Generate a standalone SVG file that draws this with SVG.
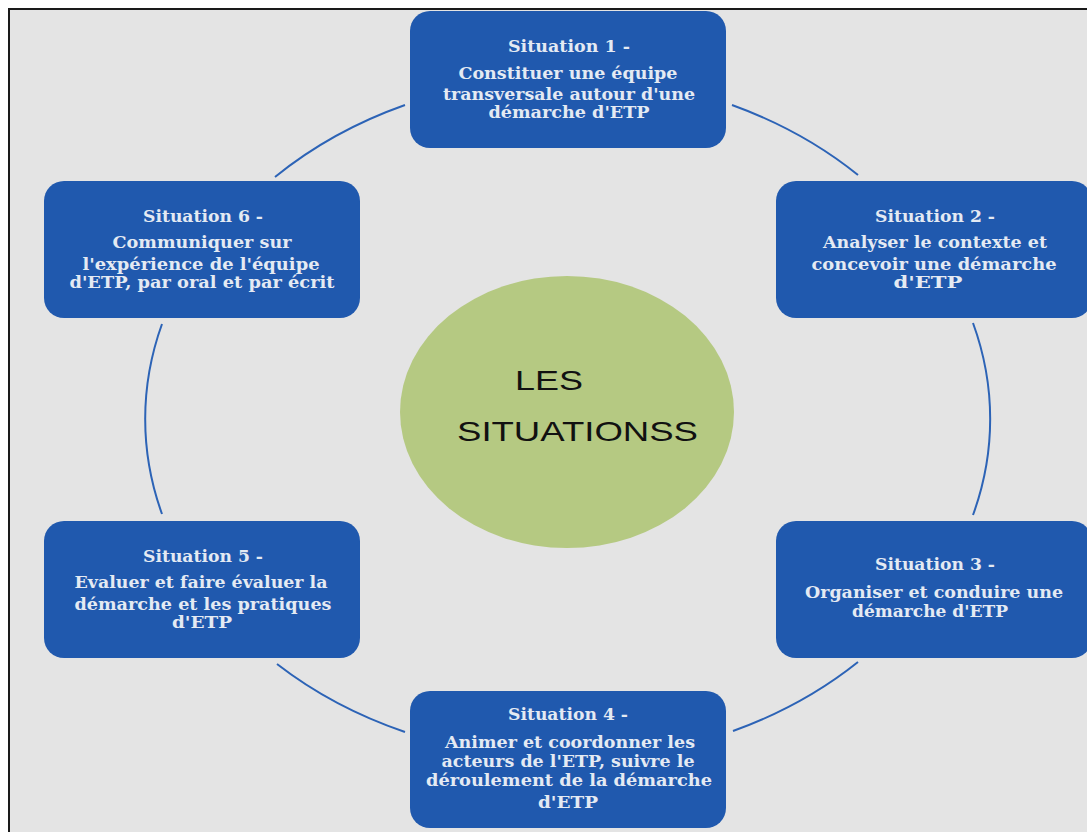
<svg xmlns="http://www.w3.org/2000/svg" width="1087" height="832" viewBox="0 0 1087 832">
<style>
.box{fill:#2059ae;}
.t{font-family:"DejaVu Serif","Liberation Serif",serif;font-weight:bold;font-size:17px;fill:#e4eaf3;text-anchor:middle;}
.c{font-family:"Liberation Sans",Arial,sans-serif;font-size:28px;fill:#111;}
.arc{fill:none;stroke:#2c63b6;stroke-width:2;}
</style>
<rect x="0" y="0" width="1087" height="832" fill="#ffffff"/>
<rect x="9" y="9" width="1090" height="830" fill="#e4e4e4" stroke="#1a1a1a" stroke-width="2"/>
<g id="connectors">
<path class="arc" d="M275,177 A422,340 0 0 1 405,105"/>
<path class="arc" d="M732,105 A422,340 0 0 1 858,175"/>
<path class="arc" d="M973,323 A422,340 0 0 1 973,515"/>
<path class="arc" d="M858,662 A422,340 0 0 1 733,731"/>
<path class="arc" d="M405,732 A422,340 0 0 1 277,664"/>
<path class="arc" d="M162,514 A422,340 0 0 1 162,324"/>
</g>
<g id="center">
<ellipse cx="567" cy="412" rx="167" ry="136" fill="#b5c982"/>
<text class="c" x="515" y="390" textLength="68" lengthAdjust="spacingAndGlyphs">LES</text>
<text class="c" x="457" y="441" textLength="241" lengthAdjust="spacingAndGlyphs">SITUATIONSS</text>
</g>
<g id="situation1">
<rect class="box" x="410" y="11" width="316" height="137" rx="20"/>
<text class="t" x="569" y="52" textLength="122" lengthAdjust="spacingAndGlyphs">Situation 1 -</text>
<text class="t" x="568" y="79" textLength="219" lengthAdjust="spacingAndGlyphs">Constituer une équipe</text>
<text class="t" x="569" y="100" textLength="252" lengthAdjust="spacingAndGlyphs">transversale autour d'une</text>
<text class="t" x="569" y="118" textLength="161" lengthAdjust="spacingAndGlyphs">démarche d'ETP</text>
</g>
<g id="situation2">
<rect class="box" x="776" y="181" width="316" height="137" rx="20"/>
<text class="t" x="935" y="222" textLength="120" lengthAdjust="spacingAndGlyphs">Situation 2 -</text>
<text class="t" x="935" y="248" textLength="224" lengthAdjust="spacingAndGlyphs">Analyser le contexte et</text>
<text class="t" x="934" y="270" textLength="245" lengthAdjust="spacingAndGlyphs">concevoir une démarche</text>
<text class="t" x="928" y="288" textLength="69" lengthAdjust="spacingAndGlyphs">d'ETP</text>
</g>
<g id="situation3">
<rect class="box" x="776" y="521" width="316" height="137" rx="20"/>
<text class="t" x="935" y="570" textLength="120" lengthAdjust="spacingAndGlyphs">Situation 3 -</text>
<text class="t" x="934" y="598" textLength="258" lengthAdjust="spacingAndGlyphs">Organiser et conduire une</text>
<text class="t" x="930" y="617" textLength="156" lengthAdjust="spacingAndGlyphs">démarche d'ETP</text>
</g>
<g id="situation4">
<rect class="box" x="410" y="691" width="316" height="137" rx="20"/>
<text class="t" x="568" y="720" textLength="120" lengthAdjust="spacingAndGlyphs">Situation 4 -</text>
<text class="t" x="570" y="748" textLength="250" lengthAdjust="spacingAndGlyphs">Animer et coordonner les</text>
<text class="t" x="568" y="767" textLength="253" lengthAdjust="spacingAndGlyphs">acteurs de l'ETP, suivre le</text>
<text class="t" x="569" y="786" textLength="286" lengthAdjust="spacingAndGlyphs">déroulement de la démarche</text>
<text class="t" x="568" y="808" textLength="60" lengthAdjust="spacingAndGlyphs">d'ETP</text>
</g>
<g id="situation5">
<rect class="box" x="44" y="521" width="316" height="137" rx="20"/>
<text class="t" x="203" y="562" textLength="120" lengthAdjust="spacingAndGlyphs">Situation 5 -</text>
<text class="t" x="201" y="588" textLength="253" lengthAdjust="spacingAndGlyphs">Evaluer et faire évaluer la</text>
<text class="t" x="203" y="610" textLength="257" lengthAdjust="spacingAndGlyphs">démarche et les pratiques</text>
<text class="t" x="202" y="628" textLength="60" lengthAdjust="spacingAndGlyphs">d'ETP</text>
</g>
<g id="situation6">
<rect class="box" x="44" y="181" width="316" height="137" rx="20"/>
<text class="t" x="203" y="222" textLength="120" lengthAdjust="spacingAndGlyphs">Situation 6 -</text>
<text class="t" x="202" y="248" textLength="179" lengthAdjust="spacingAndGlyphs">Communiquer sur</text>
<text class="t" x="201" y="270" textLength="237" lengthAdjust="spacingAndGlyphs">l'expérience de l'équipe</text>
<text class="t" x="202" y="288" textLength="265" lengthAdjust="spacingAndGlyphs">d'ETP, par oral et par écrit</text>
</g>
</svg>
